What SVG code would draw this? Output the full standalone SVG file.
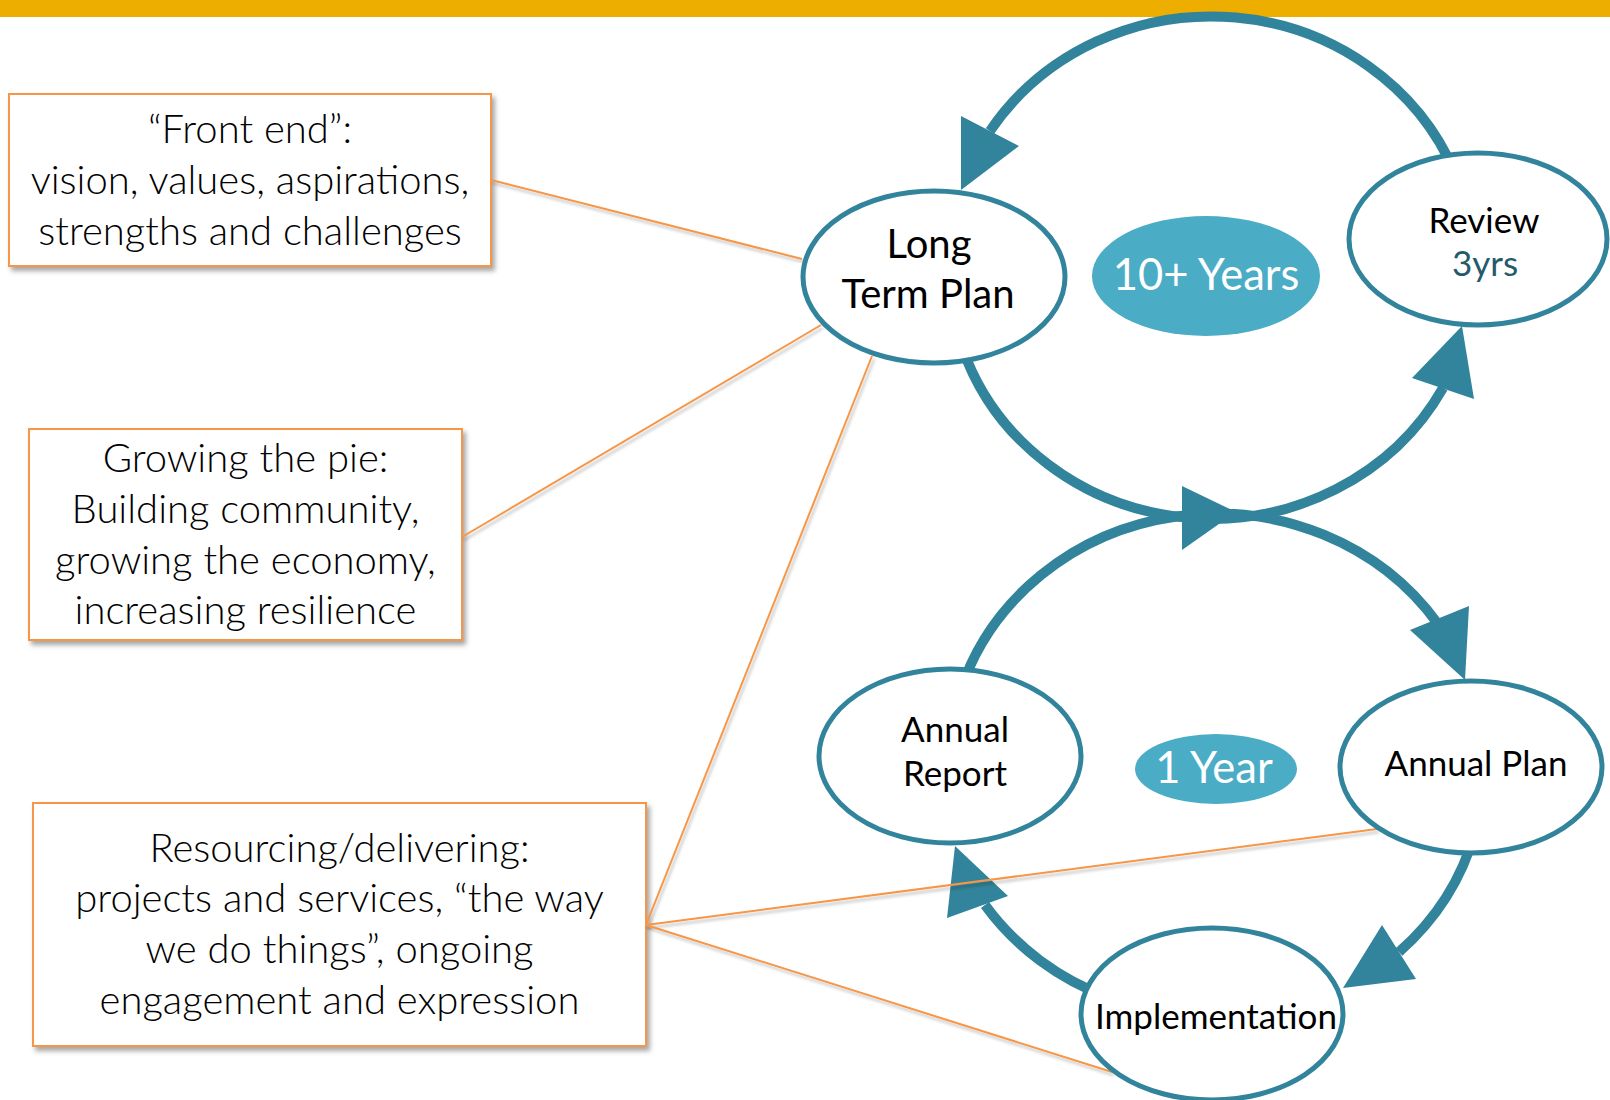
<svg xmlns="http://www.w3.org/2000/svg" width="1610" height="1100" viewBox="0 0 1610 1100">
  <defs>
    <filter id="boxShadow" x="-10%" y="-10%" width="130%" height="130%">
      <feDropShadow dx="3" dy="4" stdDeviation="2.5" flood-color="#000" flood-opacity="0.35"/>
    </filter>
    <filter id="lineShadow" x="-5%" y="-5%" width="110%" height="110%">
      <feDropShadow dx="2" dy="3" stdDeviation="1.5" flood-color="#000" flood-opacity="0.25"/>
    </filter>
  </defs>
  <style>
    .bar { fill: #EDAE00; }
    .box { fill: #ffffff; stroke: #F79646; stroke-width: 2; filter: url(#boxShadow); }
    .btxt { font-family: Lato, "Liberation Sans", sans-serif; font-weight: 300; font-size: 40px; fill: #000; text-anchor: middle; }
    .loop { fill: none; stroke: #31849B; stroke-width: 10; }
    .head { fill: #31849B; stroke: none; }
    .node { fill: #ffffff; stroke: #31849B; stroke-width: 5; }
    .pill { fill: #4BACC6; stroke: none; }
    .ntxt { font-family: Lato, "Liberation Sans", sans-serif; fill: #000; text-anchor: middle; }
    .big { font-size: 40px; }
    .mid { font-size: 35px; }
    .ptxt { font-family: Lato, "Liberation Sans", sans-serif; font-size: 43.5px; fill: #ffffff; text-anchor: middle; }
    .sub { fill: #245B6B; }
    .link { fill: none; stroke: #F79646; stroke-width: 2; filter: url(#lineShadow); }
  </style>

  <!-- header band -->
  <rect class="bar" x="0" y="0" width="1610" height="17"/>

  <!-- callout boxes -->
  <g id="box-front-end">
    <rect class="box" x="9" y="94" width="482" height="172"/>
    <text class="btxt" x="250" y="143">“Front end”:</text>
    <text class="btxt" x="250" y="194">vision, values, aspirations,</text>
    <text class="btxt" x="250" y="245">strengths and challenges</text>
  </g>
  <g id="box-growing">
    <rect class="box" x="29" y="429" width="433" height="211"/>
    <text class="btxt" x="245.5" y="472">Growing the pie:</text>
    <text class="btxt" x="245.5" y="523">Building community,</text>
    <text class="btxt" x="245.5" y="574">growing the economy,</text>
    <text class="btxt" x="245.5" y="624">increasing resilience</text>
  </g>
  <g id="box-resourcing">
    <rect class="box" x="33" y="803" width="613" height="243"/>
    <text class="btxt" x="339.5" y="862">Resourcing/delivering:</text>
    <text class="btxt" x="339.5" y="912">projects and services, “the way</text>
    <text class="btxt" x="339.5" y="963">we do things”, ongoing</text>
    <text class="btxt" x="339.5" y="1014">engagement and expression</text>
  </g>

  <!-- cycle arrows -->
  <g id="cycle-arrows">
    <!-- 10+ year loop -->
    <path class="loop" d="M 1455 173 A 263 250 0 0 0 990 131"/>
    <polygon class="head" points="961,116 1019,146 961,190"/>
    <path class="loop" d="M 962 347 A 263 250 0 0 0 1443 388"/>
    <polygon class="head" points="1462,326 1412,378 1474,399"/>
    <polygon class="head" points="1182,486 1182,550 1236,512"/>
    <!-- 1 year loop -->
    <path class="loop" d="M 960 692 A 268 252 0 0 1 1438 624"/>
    <polygon class="head" points="1410,630 1469,606 1465,680"/>
    <path class="loop" d="M 1475 832 A 268 252 0 0 1 1399 952"/>
    <polygon class="head" points="1382,925 1416,979 1343,988"/>
    <path class="loop" d="M 1110 998 A 268 252 0 0 1 985 905"/>
    <polygon class="head" points="947,918 1008,896 955,846"/>
  </g>

  <!-- callout leader lines -->
  <g id="connectors">
    <line class="link" x1="491" y1="180" x2="802" y2="259"/>
    <line class="link" x1="462" y1="537" x2="821" y2="325"/>
    <line class="link" x1="646" y1="925" x2="872" y2="356"/>
    <line class="link" x1="646" y1="925" x2="1377" y2="829"/>
    <line class="link" x1="646" y1="925" x2="1112" y2="1072"/>
  </g>

  <!-- cycle stages -->
  <g id="node-long-term-plan">
    <ellipse class="node" cx="934" cy="277" rx="131" ry="86"/>
    <text class="ntxt big" x="929" y="258">Long</text>
    <text class="ntxt big" x="928" y="308">Term Plan</text>
  </g>
  <g id="node-10-years">
    <ellipse class="pill" cx="1206" cy="276" rx="114" ry="60"/>
    <text class="ptxt" x="1206" y="290">10+ Years</text>
  </g>
  <g id="node-review">
    <ellipse class="node" cx="1478" cy="239" rx="129" ry="86"/>
    <text class="ntxt mid" x="1484" y="233">Review</text>
    <text class="ntxt mid sub" x="1485" y="276">3yrs</text>
  </g>
  <g id="node-annual-report">
    <ellipse class="node" cx="950" cy="756" rx="131" ry="87"/>
    <text class="ntxt mid" x="955" y="742">Annual</text>
    <text class="ntxt mid" x="955" y="786">Report</text>
  </g>
  <g id="node-1-year">
    <ellipse class="pill" cx="1216" cy="769" rx="81" ry="35"/>
    <text class="ptxt" x="1214" y="783">1 Year</text>
  </g>
  <g id="node-annual-plan">
    <ellipse class="node" cx="1471" cy="767" rx="131" ry="86"/>
    <text class="ntxt mid" x="1476" y="776">Annual Plan</text>
  </g>
  <g id="node-implementation">
    <ellipse class="node" cx="1212" cy="1014" rx="131" ry="86"/>
    <text class="ntxt mid" x="1216" y="1029">Implementation</text>
  </g>
</svg>
